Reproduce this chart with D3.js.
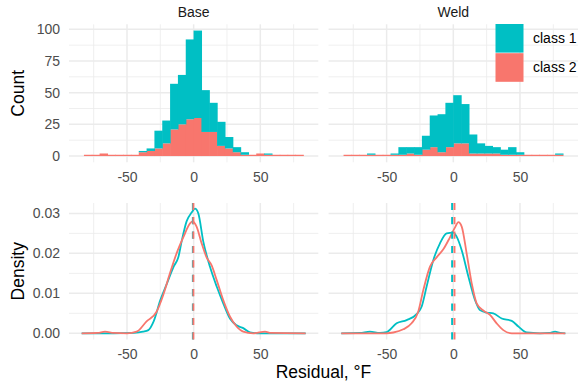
<!DOCTYPE html>
<html>
<head>
<meta charset="utf-8">
<script src="https://cdn.jsdelivr.net/npm/d3@7"></script>
<style>
  body { margin: 0; background: #fff; }
  svg text { font-family: "Liberation Sans", Arial, sans-serif; }
</style>
</head>
<body>
<div id="chart"></div>
<script>
// facets and classes
const facets = ['Base', 'Weld'];
const classes = ['class 1', 'class 2'];
const colors = ['#00BFC4', '#F8766D'];

// histogram bins (residual, °F)
const binStart = -82.3;
const binWidth = 5.875;

// counts per bin, class 1 stacked on top of class 2
const baseClass1 = [0,0,0,0,0,0,0,1,2,14,18,36,39,63,69,33,23,19,9,4,2,0,0,1,0,0,0,0];
const baseClass2 = [1,1,2,1,1,1,1,3,4,6,10,21,25,29,30,19,19,8,6,3,1,1,2,1,1,1,1,1];
const weldClass1 = [0,0,0,1,0,0,1,6,5,6,11,25,30,35,38,31,15,8,6,5,4,6,2,0,0,0,0,1];
const weldClass2 = [1,1,1,1,1,1,1,1,2,1,5,7,3,7,10,10,2,2,2,2,1,1,1,1,1,1,1,1];

// density curves
const baseDens1X = [-84,-60,-45,-38,-34,-30,-25,-20,-15,-11.5,-9,-5.3,-1.5,1,3.5,7.2,12.2,17.3,22.2,27.2,32.2,37.2,42.3,50,60,84];
const baseDens1Y = [0,0,0.0001,0.0004,0.0008,0.0030,0.0083,0.0125,0.0167,0.0190,0.0230,0.0280,0.0302,0.0312,0.0300,0.0230,0.0167,0.0117,0.0075,0.0037,0.0020,0.0013,0.0002,0,0,0];
const baseDens2X = [-84,-72,-66.5,-60,-50,-42.8,-35.3,-27.8,-22.8,-17.8,-12.8,-7.8,-2.7,-0.8,2.2,6,9.7,13.5,17.3,22.2,27.2,32.2,37.2,44.7,49,53.5,58,84];
const baseDens2Y = [0,0.0001,0.0004,0.0001,0,0.0004,0.0030,0.0054,0.0096,0.0150,0.0200,0.0240,0.0275,0.0280,0.0267,0.0225,0.0190,0.0170,0.0133,0.0083,0.0042,0.0017,0.0004,0,0.0002,0.0004,0.0001,0];
const weldDens1X = [-84,-70,-62.5,-55,-50,-42.5,-35,-27.5,-23.7,-20,-15,-10,-5,0,2.5,6.3,11.3,16.3,20,25,30,36.3,43.8,48.8,55,65,72,76.3,80,84];
const weldDens1Y = [0,0.0001,0.0004,0.0001,0.0003,0.0025,0.0033,0.0048,0.0067,0.0117,0.0183,0.0225,0.0250,0.0252,0.0242,0.0208,0.0142,0.0083,0.0058,0.0052,0.0050,0.0037,0.0031,0.0017,0.0002,0,0.0001,0.0004,0.0001,0];
const weldDens2X = [-84,-50,-45,-37.5,-31.3,-26.3,-22.5,-17.5,-12.5,-7.5,-2.5,1.3,3.8,6.3,10,13.8,17.5,22.5,27.5,32.5,37.5,43.8,84];
const weldDens2Y = [0,0,0.0002,0.0010,0.0025,0.0054,0.0108,0.0167,0.0190,0.0210,0.0240,0.0265,0.0278,0.0267,0.0200,0.0125,0.0075,0.0057,0.0046,0.0025,0.0008,0,0];

// class means (dashed lines)
const baseMeans = [-0.6, -0.2];
const weldMeans = [-0.9, 0.9];

// ticks
const xTicks = [-50, 0, 50];
const xMinor = [-75, -25, 25, 75];
const countTicks = [0, 25, 50, 75, 100];
const countMinor = [12.5, 37.5, 62.5, 87.5];
const densTicks = [0, 0.01, 0.02, 0.03];
const densMinor = [0.005, 0.015, 0.025];

const W = 579, H = 385;
const svg = d3.select('#chart').append('svg')
  .attr('width', W).attr('height', H);
svg.append('rect').attr('width', W).attr('height', H).attr('fill', '#fff');

const panelX = [[69, 318.3], [328.6, 578]];
const topY = [162.3, 24.3];
const botY = [339.5, 203];

const xScales = panelX.map(r => d3.scaleLinear().domain([-93.5, 93.5]).range(r));
const yCount = d3.scaleLinear().domain([-4.95, 103.95]).range(topY);
const yDens = d3.scaleLinear().domain([-0.00155, 0.0326]).range(botY);

const hist = [
  {c1: baseClass1, c2: baseClass2},
  {c1: weldClass1, c2: weldClass2}
];
const dens = [
  [{x: baseDens1X, y: baseDens1Y}, {x: baseDens2X, y: baseDens2Y}],
  [{x: weldDens1X, y: weldDens1Y}, {x: weldDens2X, y: weldDens2Y}]
];
const means = [baseMeans, weldMeans];
const xFmt = d => String(d);  // plain hyphen like ggplot

function grid(g, x, y, yMaj, yMin) {
  const [x0, x1] = x.range();
  const [y0, y1] = y.range();
  g.selectAll('.ymin').data(yMin).join('line')
    .attr('x1', x0).attr('x2', x1)
    .attr('y1', d => y(d)).attr('y2', d => y(d))
    .attr('stroke', '#EBEBEB').attr('stroke-width', 0.8);
  g.selectAll('.xmin').data(xMinor).join('line')
    .attr('x1', d => x(d)).attr('x2', d => x(d))
    .attr('y1', y0).attr('y2', y1)
    .attr('stroke', '#EBEBEB').attr('stroke-width', 0.8);
  g.selectAll('.ymaj').data(yMaj).join('line')
    .attr('x1', x0).attr('x2', x1)
    .attr('y1', d => y(d)).attr('y2', d => y(d))
    .attr('stroke', '#EBEBEB').attr('stroke-width', 1.5);
  g.selectAll('.xmaj').data(xTicks).join('line')
    .attr('x1', d => x(d)).attr('x2', d => x(d))
    .attr('y1', y0).attr('y2', y1)
    .attr('stroke', '#EBEBEB').attr('stroke-width', 1.5);
}

function styleAxis(g) {
  g.select('.domain').remove();
  g.selectAll('.tick line').remove();
  g.selectAll('text')
    .attr('fill', '#4D4D4D')
    .style('font-size', '14px')
    .style('font-family', '"Liberation Sans", Arial, sans-serif');
}

facets.forEach((name, f) => {
  const x = xScales[f];

  // ---- top row: stacked histogram
  const gTop = svg.append('g');
  grid(gTop.append('g'), x, yCount, countTicks, countMinor);

  const rows = hist[f].c1.map((v, i) => ({
    x0: binStart + i * binWidth,
    x1: binStart + (i + 1) * binWidth,
    c1: v,
    c2: hist[f].c2[i]
  }));
  const stacked = d3.stack().keys(['c2', 'c1'])(rows);
  stacked.forEach((layer, k) => {
    gTop.append('g').selectAll('rect').data(layer).join('rect')
      .attr('x', d => x(d.data.x0))
      .attr('width', d => x(d.data.x1) - x(d.data.x0) + 0.6)
      .attr('y', d => yCount(d[1]))
      .attr('height', d => Math.max(0, yCount(d[0]) - yCount(d[1])))
      .attr('fill', k === 0 ? colors[1] : colors[0]);
  });

  gTop.append('g')
    .attr('transform', `translate(0,${topY[0]})`)
    .call(d3.axisBottom(x).tickValues(xTicks).tickSize(0).tickPadding(9.5).tickFormat(xFmt))
    .call(styleAxis);

  // strip label
  svg.append('text')
    .attr('x', (panelX[f][0] + panelX[f][1]) / 2).attr('y', 16.5)
    .attr('text-anchor', 'middle')
    .attr('fill', '#1A1A1A')
    .style('font-size', '14px')
    .text(name);

  // ---- bottom row: density
  const gBot = svg.append('g');
  grid(gBot.append('g'), x, yDens, densTicks, densMinor);

  const line = d3.line()
    .x(d => x(d[0])).y(d => yDens(d[1]))
    .curve(d3.curveMonotoneX);
  dens[f].forEach((c, k) => {
    gBot.append('path')
      .datum(c.x.map((v, i) => [v, c.y[i]]))
      .attr('d', line)
      .attr('fill', 'none')
      .attr('stroke', colors[k])
      .attr('stroke-width', 1.8);
  });

  means[f].forEach((m, k) => {
    gBot.append('line')
      .attr('x1', x(m)).attr('x2', x(m))
      .attr('y1', botY[0]).attr('y2', botY[1])
      .attr('stroke', colors[k])
      .attr('stroke-width', 1.9)
      .attr('stroke-dasharray', '7.2,7.2');
  });

  gBot.append('g')
    .attr('transform', `translate(0,${botY[0]})`)
    .call(d3.axisBottom(x).tickValues(xTicks).tickSize(0).tickPadding(9.5).tickFormat(xFmt))
    .call(styleAxis);

  if (f === 0) {
    gTop.append('g')
      .attr('transform', `translate(${panelX[0][0]},0)`)
      .call(d3.axisLeft(yCount).tickValues(countTicks).tickSize(0).tickPadding(9).tickFormat(d3.format('d')))
      .call(styleAxis);
    gBot.append('g')
      .attr('transform', `translate(${panelX[0][0]},0)`)
      .call(d3.axisLeft(yDens).tickValues(densTicks).tickSize(0).tickPadding(9).tickFormat(d3.format('.2f')))
      .call(styleAxis);
  }
});

// axis titles
svg.append('text')
  .attr('transform', `translate(23.5,${(topY[0] + topY[1]) / 2}) rotate(-90)`)
  .attr('text-anchor', 'middle')
  .style('font-size', '17.5px')
  .text('Count');
svg.append('text')
  .attr('transform', `translate(23.5,${(botY[0] + botY[1]) / 2}) rotate(-90)`)
  .attr('text-anchor', 'middle')
  .style('font-size', '17.5px')
  .text('Density');
svg.append('text')
  .attr('x', (panelX[0][0] + panelX[1][1]) / 2).attr('y', 377.5)
  .attr('text-anchor', 'middle')
  .style('font-size', '17.5px')
  .text('Residual, °F');

// legend (inside top-right panel)
const legend = svg.append('g').attr('transform', 'translate(495.5,24)');
legend.selectAll('rect').data(classes).join('rect')
  .attr('x', 0).attr('y', (d, i) => i * 29.2)
  .attr('width', 28).attr('height', 28.6)
  .attr('fill', (d, i) => colors[i]);
legend.selectAll('text').data(classes).join('text')
  .attr('x', 37.5).attr('y', (d, i) => i * 29.2 + 14.3)
  .attr('dy', '0.35em')
  .attr('fill', '#000')
  .style('font-size', '14px')
  .text(d => d);
</script>
</body>
</html>
